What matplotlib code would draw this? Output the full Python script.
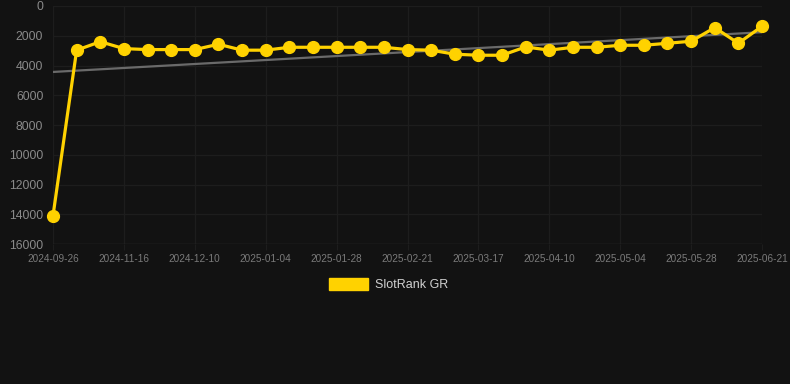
import matplotlib
matplotlib.use("Agg")
import matplotlib.pyplot as plt
import numpy as np

# category dates (only every third one is labelled)
dates = ['2024-09-26', '2024-10-31', '2024-11-08', '2024-11-16', '2024-11-24',
         '2024-12-02', '2024-12-10', '2024-12-18', '2024-12-26', '2025-01-04',
         '2025-01-12', '2025-01-20', '2025-01-28', '2025-02-05', '2025-02-13',
         '2025-02-21', '2025-03-01', '2025-03-09', '2025-03-17', '2025-03-25',
         '2025-04-02', '2025-04-10', '2025-04-18', '2025-04-26', '2025-05-04',
         '2025-05-12', '2025-05-20', '2025-05-28', '2025-06-05', '2025-06-13',
         '2025-06-21']
rank_gr = [14100, 2970, 2400, 2865, 2930, 2930, 2930, 2570, 2970, 2970,
           2775, 2775, 2775, 2775, 2775, 2930, 2970, 3240, 3310, 3310,
           2750, 2970, 2775, 2775, 2640, 2640, 2505, 2370, 1455, 2505,
           1365]
y_ticks = [0, 2000, 4000, 6000, 8000, 10000, 12000, 14000, 16000]

BG = '#121212'
YELLOW = '#FFD200'

fig = plt.figure(figsize=(7.9, 3.84), dpi=100, facecolor=BG)
ax = fig.add_axes([53 / 790, 1 - 244 / 384, 709 / 790, 238 / 384])
ax.set_facecolor(BG)

x = np.arange(len(dates))

# linear trend over the series
coef = np.polyfit(x, rank_gr, 1)
ax.plot(x, np.polyval(coef, x), color='#6a6a6a', lw=1.6, zorder=2)

ax.plot(x, rank_gr, color=YELLOW, lw=2.3, marker='o', ms=8.5,
        markerfacecolor=YELLOW, markeredgecolor=YELLOW, zorder=3,
        clip_on=False)

ax.set_xlim(0, len(dates) - 1)
ax.set_ylim(16000, 0)
ax.set_yticks(y_ticks)
ax.set_yticklabels([str(v) for v in y_ticks])
shown = x[::3]
ax.set_xticks(shown)
ax.set_xticklabels([dates[i] for i in shown])

ax.grid(True, color='#1d1d1d', lw=0.9)
ax.set_axisbelow(True)
for s in ax.spines.values():
    s.set_visible(False)
ax.axhline(16000, color='#2a2a2a', lw=1, zorder=1)

ax.tick_params(axis='y', colors='#8a8a8a', labelsize=8.8, length=0, pad=7)
ax.tick_params(axis='x', colors='#7a7a7a', labelsize=7.2, length=4,
               width=0.8, pad=3)
ax.tick_params(axis='x', color='#1d1d1d')
for lbl in ax.get_xticklabels() + ax.get_yticklabels():
    lbl.set_fontfamily('Liberation Sans')

# legend
fig.patches.append(plt.Rectangle((329 / 790, 1 - 290 / 384), 39 / 790, 12 / 384,
                                 transform=fig.transFigure, color=YELLOW))
fig.text(375 / 790, 1 - 284.5 / 384, 'SlotRank GR', color='#d0d0d0',
         fontsize=9, family='Liberation Sans', va='center', ha='left')

fig.savefig('out.png', dpi=100, facecolor=BG)
